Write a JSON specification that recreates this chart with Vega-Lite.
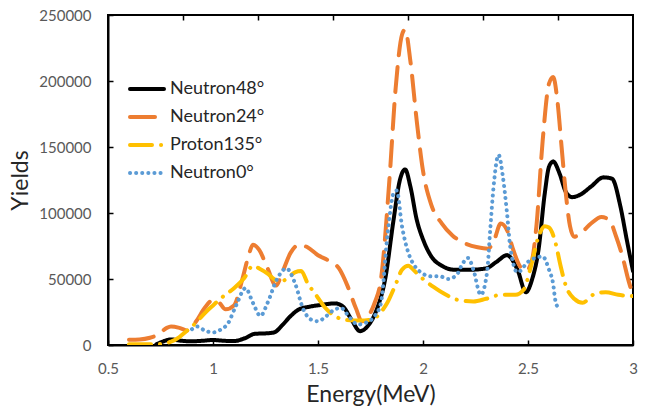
{
  "$schema": "https://vega.github.io/schema/vega-lite/v6.json",
  "width": 525,
  "height": 330,
  "autosize": "none",
  "padding": {"left": 108, "top": 15, "right": 14, "bottom": 67},
  "background": "white",
  "config": {
    "font": "Lato",
    "view": {"stroke": "black", "strokeWidth": 2},
    "axis": {"grid": false, "domainColor": "black", "domainWidth": 2, "tickColor": "black", "tickWidth": 1.5, "tickSize": -5, "labelFont": "Lato", "labelFontSize": 15, "labelColor": "#595959", "titleFont": "Lato", "titleFontSize": 23, "titleFontWeight": "normal", "titleColor": "#262626"}
  },
  "data": {"values": [
    {"s":"Neutron48°","e":0.73,"y":500},{"s":"Neutron48°","e":0.76,"y":2500},{"s":"Neutron48°","e":0.80,"y":4200},{"s":"Neutron48°","e":0.85,"y":3200},{"s":"Neutron48°","e":0.90,"y":2800},{"s":"Neutron48°","e":0.95,"y":3200},{"s":"Neutron48°","e":1.00,"y":3800},{"s":"Neutron48°","e":1.05,"y":3200},{"s":"Neutron48°","e":1.10,"y":3000},{"s":"Neutron48°","e":1.15,"y":5000},{"s":"Neutron48°","e":1.20,"y":8500},{"s":"Neutron48°","e":1.25,"y":8800},{"s":"Neutron48°","e":1.29,"y":9500},{"s":"Neutron48°","e":1.33,"y":15000},{"s":"Neutron48°","e":1.37,"y":22000},{"s":"Neutron48°","e":1.41,"y":27000},{"s":"Neutron48°","e":1.46,"y":29000},{"s":"Neutron48°","e":1.52,"y":30500},{"s":"Neutron48°","e":1.58,"y":31500},{"s":"Neutron48°","e":1.62,"y":29000},{"s":"Neutron48°","e":1.66,"y":19000},{"s":"Neutron48°","e":1.70,"y":10500},{"s":"Neutron48°","e":1.74,"y":15000},{"s":"Neutron48°","e":1.78,"y":27000},{"s":"Neutron48°","e":1.82,"y":50000},{"s":"Neutron48°","e":1.86,"y":95000},{"s":"Neutron48°","e":1.89,"y":125000},{"s":"Neutron48°","e":1.915,"y":133000},{"s":"Neutron48°","e":1.94,"y":120000},{"s":"Neutron48°","e":1.97,"y":95000},{"s":"Neutron48°","e":2.00,"y":80000},{"s":"Neutron48°","e":2.04,"y":67000},{"s":"Neutron48°","e":2.09,"y":60000},{"s":"Neutron48°","e":2.15,"y":57000},{"s":"Neutron48°","e":2.22,"y":57000},{"s":"Neutron48°","e":2.30,"y":58000},{"s":"Neutron48°","e":2.35,"y":63000},{"s":"Neutron48°","e":2.40,"y":68000},{"s":"Neutron48°","e":2.45,"y":57000},{"s":"Neutron48°","e":2.49,"y":40000},{"s":"Neutron48°","e":2.52,"y":50000},{"s":"Neutron48°","e":2.55,"y":72000},{"s":"Neutron48°","e":2.58,"y":115000},{"s":"Neutron48°","e":2.60,"y":135000},{"s":"Neutron48°","e":2.62,"y":139000},{"s":"Neutron48°","e":2.65,"y":130000},{"s":"Neutron48°","e":2.68,"y":116000},{"s":"Neutron48°","e":2.71,"y":112000},{"s":"Neutron48°","e":2.75,"y":114000},{"s":"Neutron48°","e":2.80,"y":120000},{"s":"Neutron48°","e":2.86,"y":127000},{"s":"Neutron48°","e":2.90,"y":126000},{"s":"Neutron48°","e":2.94,"y":105000},{"s":"Neutron48°","e":2.97,"y":80000},{"s":"Neutron48°","e":3.00,"y":56000},
    {"s":"Neutron24°","e":0.60,"y":4000},{"s":"Neutron24°","e":0.65,"y":4200},{"s":"Neutron24°","e":0.70,"y":5500},{"s":"Neutron24°","e":0.74,"y":8000},{"s":"Neutron24°","e":0.78,"y":13000},{"s":"Neutron24°","e":0.80,"y":14000},{"s":"Neutron24°","e":0.84,"y":13000},{"s":"Neutron24°","e":0.88,"y":11000},{"s":"Neutron24°","e":0.92,"y":18000},{"s":"Neutron24°","e":0.96,"y":28000},{"s":"Neutron24°","e":1.00,"y":34000},{"s":"Neutron24°","e":1.03,"y":32000},{"s":"Neutron24°","e":1.06,"y":27000},{"s":"Neutron24°","e":1.10,"y":30000},{"s":"Neutron24°","e":1.14,"y":50000},{"s":"Neutron24°","e":1.17,"y":68000},{"s":"Neutron24°","e":1.19,"y":76000},{"s":"Neutron24°","e":1.22,"y":72000},{"s":"Neutron24°","e":1.26,"y":58000},{"s":"Neutron24°","e":1.30,"y":45000},{"s":"Neutron24°","e":1.33,"y":55000},{"s":"Neutron24°","e":1.37,"y":70000},{"s":"Neutron24°","e":1.41,"y":76000},{"s":"Neutron24°","e":1.45,"y":74000},{"s":"Neutron24°","e":1.50,"y":68000},{"s":"Neutron24°","e":1.55,"y":64000},{"s":"Neutron24°","e":1.60,"y":58000},{"s":"Neutron24°","e":1.64,"y":45000},{"s":"Neutron24°","e":1.68,"y":28000},{"s":"Neutron24°","e":1.71,"y":18000},{"s":"Neutron24°","e":1.74,"y":22000},{"s":"Neutron24°","e":1.77,"y":32000},{"s":"Neutron24°","e":1.80,"y":50000},{"s":"Neutron24°","e":1.84,"y":125000},{"s":"Neutron24°","e":1.87,"y":195000},{"s":"Neutron24°","e":1.90,"y":235000},{"s":"Neutron24°","e":1.915,"y":239000},{"s":"Neutron24°","e":1.94,"y":215000},{"s":"Neutron24°","e":1.97,"y":170000},{"s":"Neutron24°","e":2.00,"y":132000},{"s":"Neutron24°","e":2.04,"y":106000},{"s":"Neutron24°","e":2.09,"y":92000},{"s":"Neutron24°","e":2.14,"y":83000},{"s":"Neutron24°","e":2.20,"y":77000},{"s":"Neutron24°","e":2.26,"y":74000},{"s":"Neutron24°","e":2.31,"y":73000},{"s":"Neutron24°","e":2.34,"y":80000},{"s":"Neutron24°","e":2.37,"y":92000},{"s":"Neutron24°","e":2.40,"y":87000},{"s":"Neutron24°","e":2.43,"y":72000},{"s":"Neutron24°","e":2.46,"y":60000},{"s":"Neutron24°","e":2.49,"y":56000},{"s":"Neutron24°","e":2.52,"y":65000},{"s":"Neutron24°","e":2.54,"y":90000},{"s":"Neutron24°","e":2.57,"y":155000},{"s":"Neutron24°","e":2.60,"y":198000},{"s":"Neutron24°","e":2.62,"y":203000},{"s":"Neutron24°","e":2.64,"y":185000},{"s":"Neutron24°","e":2.66,"y":150000},{"s":"Neutron24°","e":2.68,"y":115000},{"s":"Neutron24°","e":2.70,"y":90000},{"s":"Neutron24°","e":2.72,"y":82000},{"s":"Neutron24°","e":2.76,"y":86000},{"s":"Neutron24°","e":2.80,"y":92000},{"s":"Neutron24°","e":2.85,"y":97000},{"s":"Neutron24°","e":2.89,"y":94000},{"s":"Neutron24°","e":2.92,"y":82000},{"s":"Neutron24°","e":2.95,"y":67000},{"s":"Neutron24°","e":2.98,"y":48000},{"s":"Neutron24°","e":3.00,"y":38000},
    {"s":"Proton135°","e":0.60,"y":500},{"s":"Proton135°","e":0.65,"y":500},{"s":"Proton135°","e":0.73,"y":600},{"s":"Proton135°","e":0.78,"y":1500},{"s":"Proton135°","e":0.80,"y":2500},{"s":"Proton135°","e":0.84,"y":6000},{"s":"Proton135°","e":0.87,"y":10000},{"s":"Proton135°","e":0.92,"y":17000},{"s":"Proton135°","e":0.96,"y":24000},{"s":"Proton135°","e":1.00,"y":30000},{"s":"Proton135°","e":1.05,"y":37000},{"s":"Proton135°","e":1.10,"y":43000},{"s":"Proton135°","e":1.15,"y":51000},{"s":"Proton135°","e":1.19,"y":60000},{"s":"Proton135°","e":1.22,"y":58000},{"s":"Proton135°","e":1.26,"y":54000},{"s":"Proton135°","e":1.29,"y":50000},{"s":"Proton135°","e":1.32,"y":48000},{"s":"Proton135°","e":1.35,"y":50000},{"s":"Proton135°","e":1.39,"y":55000},{"s":"Proton135°","e":1.42,"y":56000},{"s":"Proton135°","e":1.45,"y":47000},{"s":"Proton135°","e":1.49,"y":38000},{"s":"Proton135°","e":1.53,"y":29000},{"s":"Proton135°","e":1.58,"y":22000},{"s":"Proton135°","e":1.63,"y":19000},{"s":"Proton135°","e":1.70,"y":18500},{"s":"Proton135°","e":1.76,"y":19500},{"s":"Proton135°","e":1.80,"y":25000},{"s":"Proton135°","e":1.83,"y":32000},{"s":"Proton135°","e":1.87,"y":46000},{"s":"Proton135°","e":1.90,"y":57000},{"s":"Proton135°","e":1.93,"y":60000},{"s":"Proton135°","e":1.96,"y":56000},{"s":"Proton135°","e":2.00,"y":50000},{"s":"Proton135°","e":2.05,"y":44000},{"s":"Proton135°","e":2.11,"y":38000},{"s":"Proton135°","e":2.17,"y":34000},{"s":"Proton135°","e":2.24,"y":33000},{"s":"Proton135°","e":2.30,"y":35000},{"s":"Proton135°","e":2.37,"y":38000},{"s":"Proton135°","e":2.44,"y":38000},{"s":"Proton135°","e":2.48,"y":42000},{"s":"Proton135°","e":2.51,"y":57000},{"s":"Proton135°","e":2.55,"y":82000},{"s":"Proton135°","e":2.58,"y":90000},{"s":"Proton135°","e":2.60,"y":89000},{"s":"Proton135°","e":2.63,"y":78000},{"s":"Proton135°","e":2.655,"y":60000},{"s":"Proton135°","e":2.68,"y":45000},{"s":"Proton135°","e":2.72,"y":35000},{"s":"Proton135°","e":2.76,"y":32000},{"s":"Proton135°","e":2.81,"y":38000},{"s":"Proton135°","e":2.87,"y":40000},{"s":"Proton135°","e":2.93,"y":38000},{"s":"Proton135°","e":3.00,"y":37000},
    {"s":"Neutron0°","e":0.90,"y":12000},{"s":"Neutron0°","e":0.925,"y":14000},{"s":"Neutron0°","e":0.96,"y":11000},{"s":"Neutron0°","e":1.00,"y":9500},{"s":"Neutron0°","e":1.04,"y":12000},{"s":"Neutron0°","e":1.07,"y":16000},{"s":"Neutron0°","e":1.11,"y":30000},{"s":"Neutron0°","e":1.155,"y":43000},{"s":"Neutron0°","e":1.19,"y":32000},{"s":"Neutron0°","e":1.226,"y":22000},{"s":"Neutron0°","e":1.26,"y":32000},{"s":"Neutron0°","e":1.305,"y":50000},{"s":"Neutron0°","e":1.35,"y":58000},{"s":"Neutron0°","e":1.39,"y":47000},{"s":"Neutron0°","e":1.43,"y":27000},{"s":"Neutron0°","e":1.47,"y":19000},{"s":"Neutron0°","e":1.50,"y":18000},{"s":"Neutron0°","e":1.54,"y":22000},{"s":"Neutron0°","e":1.58,"y":27000},{"s":"Neutron0°","e":1.61,"y":28000},{"s":"Neutron0°","e":1.65,"y":21000},{"s":"Neutron0°","e":1.69,"y":15500},{"s":"Neutron0°","e":1.73,"y":17000},{"s":"Neutron0°","e":1.77,"y":22000},{"s":"Neutron0°","e":1.80,"y":32000},{"s":"Neutron0°","e":1.83,"y":82000},{"s":"Neutron0°","e":1.86,"y":115000},{"s":"Neutron0°","e":1.875,"y":117000},{"s":"Neutron0°","e":1.90,"y":90000},{"s":"Neutron0°","e":1.93,"y":70000},{"s":"Neutron0°","e":1.96,"y":60000},{"s":"Neutron0°","e":1.99,"y":55000},{"s":"Neutron0°","e":2.04,"y":52000},{"s":"Neutron0°","e":2.08,"y":52000},{"s":"Neutron0°","e":2.12,"y":50000},{"s":"Neutron0°","e":2.16,"y":53000},{"s":"Neutron0°","e":2.19,"y":62000},{"s":"Neutron0°","e":2.215,"y":66000},{"s":"Neutron0°","e":2.24,"y":57000},{"s":"Neutron0°","e":2.275,"y":38000},{"s":"Neutron0°","e":2.305,"y":55000},{"s":"Neutron0°","e":2.32,"y":87000},{"s":"Neutron0°","e":2.335,"y":118000},{"s":"Neutron0°","e":2.36,"y":144000},{"s":"Neutron0°","e":2.38,"y":128000},{"s":"Neutron0°","e":2.40,"y":100000},{"s":"Neutron0°","e":2.415,"y":75000},{"s":"Neutron0°","e":2.45,"y":55000},{"s":"Neutron0°","e":2.50,"y":63000},{"s":"Neutron0°","e":2.535,"y":66000},{"s":"Neutron0°","e":2.57,"y":67000},{"s":"Neutron0°","e":2.60,"y":57000},{"s":"Neutron0°","e":2.62,"y":46000},{"s":"Neutron0°","e":2.63,"y":34000},{"s":"Neutron0°","e":2.645,"y":28000}
  ]},
  "resolve": {"axis": {"x": "independent", "y": "independent"}},
  "layer": [
    {
      "mark": {"type": "line", "interpolate": "monotone", "strokeWidth": 4, "strokeCap": "round", "clip": true},
      "encoding": {
        "x": {"field": "e", "type": "quantitative", "scale": {"domain": [0.5, 3], "nice": false, "zero": false},
              "axis": {"title": "Energy(MeV)", "values": [0.5, 1, 1.5, 2, 2.5, 3], "format": "~g", "labelPadding": 21, "titlePadding": 7, "labelFlush": false, "labelOverlap": false}},
        "y": {"field": "y", "type": "quantitative", "scale": {"domain": [0, 250000], "nice": false},
              "axis": {"title": "Yields", "values": [0, 50000, 100000, 150000, 200000, 250000], "format": "d", "labelPadding": 22, "titlePadding": 6, "labelFlush": false, "labelOverlap": false}},
        "color": {"field": "s", "type": "nominal",
                  "scale": {"domain": ["Neutron48°", "Neutron24°", "Proton135°", "Neutron0°"], "range": ["#000000", "#ED7D31", "#FFC000", "#5B9BD5"]},
                  "legend": {"title": null, "orient": "none", "legendX": 20, "legendY": 55, "padding": 0, "symbolType": "stroke", "symbolSize": 1156, "symbolStrokeWidth": 4, "labelFont": "Lato", "labelFontSize": 18, "labelColor": "#262626", "labelOffset": 4, "rowPadding": -11,
                             "encode": {"symbols": {"update": {"strokeCap": {"value": "round"}}}}}},
        "strokeDash": {"field": "s", "type": "nominal",
                  "scale": {"domain": ["Neutron48°", "Neutron24°", "Proton135°", "Neutron0°"], "range": [[1, 0], [25, 12], [22, 9, 0.1, 9], [0.1, 6]]},
                  "legend": null}
      }
    },
    {
      "mark": {"type": "point", "opacity": 0},
      "encoding": {
        "x": {"field": "e", "type": "quantitative", "scale": {"domain": [0.5, 3], "nice": false, "zero": false},
              "axis": {"orient": "top", "title": null, "labels": false, "domain": false, "values": [0.857, 1.214, 1.571, 1.929, 2.286, 2.643]}},
        "y": {"field": "y", "type": "quantitative", "scale": {"domain": [0, 250000], "nice": false},
              "axis": {"orient": "right", "title": null, "labels": false, "domain": false, "values": [50000, 100000, 150000, 200000]}}
      }
    }
  ]
}
